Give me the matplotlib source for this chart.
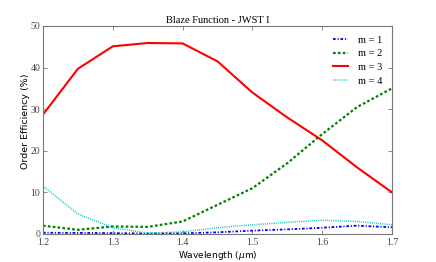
import numpy as np
import matplotlib
matplotlib.use("Agg")
import matplotlib.pyplot as plt

# wavelength samples (microns)
wavelength = [1.2, 1.25, 1.3, 1.35, 1.4, 1.45, 1.5, 1.55, 1.6, 1.65, 1.7]

# order efficiencies (%)
m1 = [0.3, 0.25, 0.2, 0.1, 0.15, 0.4, 0.8, 1.1, 1.5, 2.0, 1.6]
m2 = [2.0, 1.0, 1.8, 1.7, 3.0, 7.0, 11.0, 17.0, 24.0, 30.5, 35.0]
m3 = [28.7, 39.7, 45.1, 45.9, 45.8, 41.5, 34.0, 28.0, 22.5, 16.0, 10.0]
m4 = [11.5, 4.8, 1.5, 0.2, 0.5, 1.5, 2.2, 2.8, 3.3, 3.0, 2.2]

xticks = [1.2, 1.3, 1.4, 1.5, 1.6, 1.7]
yticks = [0, 10, 20, 30, 40, 50]

fig = plt.figure(figsize=(4.36, 2.62), dpi=100)
ax = fig.add_axes([0.0986, 0.107, 0.8004, 0.794])

ax.plot(wavelength, m1, color="blue", linestyle=(0, (1.5, 1.0, 0.6, 1.0)), linewidth=1.3, label="m = 1")
ax.plot(wavelength, m2, color="green", linestyle=(0, (1.2, 1.0)), linewidth=1.6, label="m = 2")
ax.plot(wavelength, m3, color="red", linestyle="-", linewidth=1.5, label="m = 3")
ax.plot(wavelength, m4, color="c", linestyle=(0, (0.6, 0.8)), linewidth=1.1, label="m = 4")

ax.set_xlim(1.2, 1.7)
ax.set_ylim(0, 50)
ax.set_xticks(xticks)
ax.set_yticks(yticks)
ax.set_xticklabels([f"{t:.1f}" for t in xticks], family="Liberation Serif", fontsize=7, color="#444444")
ax.set_yticklabels([str(t) for t in yticks], family="Liberation Serif", fontsize=7, color="#444444")
ax.tick_params(direction="in", length=3, width=0.6, color="#777777", pad=2, top=True, right=True)
ax.tick_params(axis="x", pad=3)
for sp in ax.spines.values():
    sp.set_color("#777777")
    sp.set_linewidth(0.8)

ax.set_title("Blaze Function - JWST I", family="Liberation Serif", fontsize=7.5, pad=2)
ax.set_xlabel(r"Wavelength ($\mu$m)", fontsize=6.5, labelpad=1)
ax.set_ylabel("Order Efficiency (%)", fontsize=6.8)
ax.yaxis.set_label_coords(-0.037, 0.54)

ax.legend(loc="upper right", frameon=False, prop={"family": "Liberation Serif", "size": 7.5},
          handlelength=1.45, handletextpad=1.0, labelspacing=0.42, borderaxespad=0.5)

fig.savefig("out.png", dpi=100)
